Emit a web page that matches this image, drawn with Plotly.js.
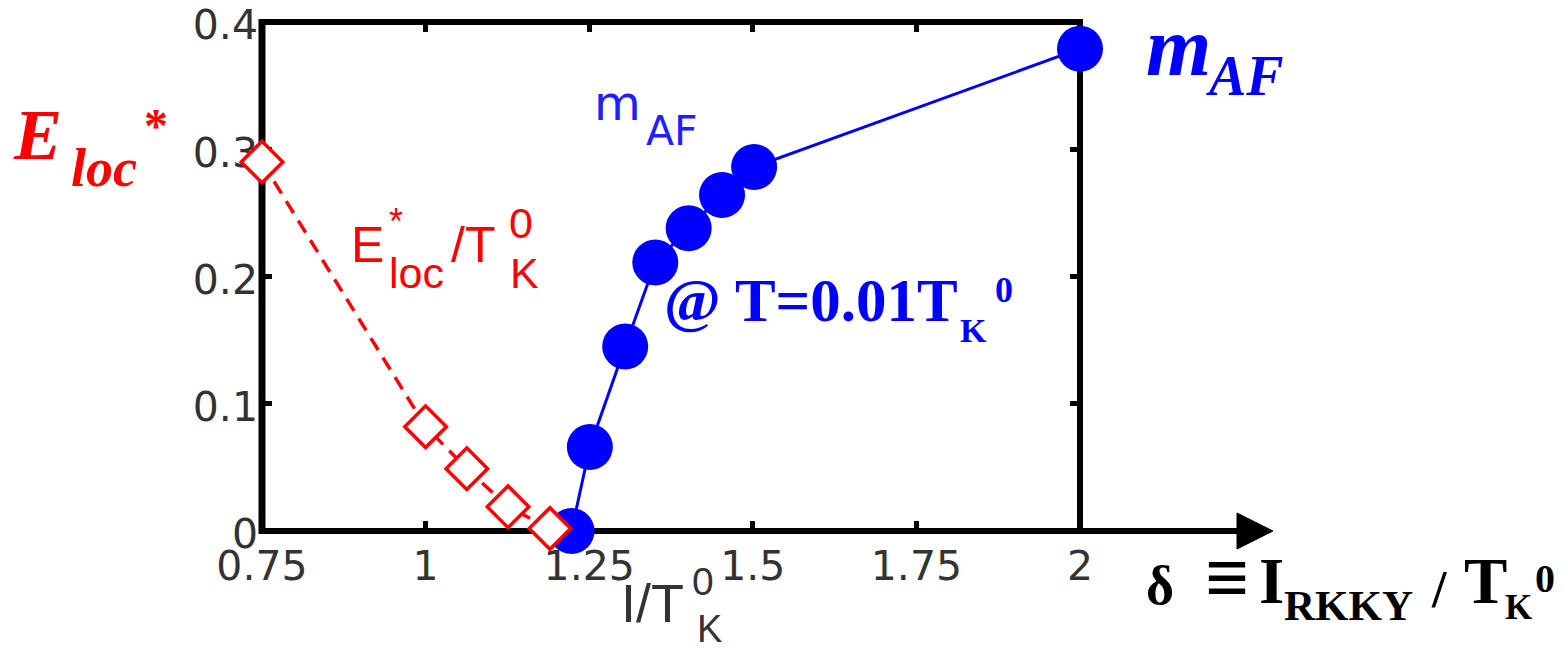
<!DOCTYPE html>
<html>
<head>
<meta charset="utf-8">
<script src="https://cdn.plot.ly/plotly-3.0.1.min.js"></script>
<style>html,body{margin:0;padding:0;background:#fff;}</style>
</head>
<body>
<div id="chart" style="width:1564px;height:651px;"></div>
<script>
// ---- data ----
const elocX = [0.75, 1.0, 1.063, 1.126, 1.19];
const elocY = [0.29, 0.082, 0.049, 0.019, 0.002];
const mafX = [1.223, 1.251, 1.305, 1.351, 1.402, 1.453, 1.502, 2.0];
const mafY = [0.0, 0.066, 0.145, 0.211, 0.238, 0.264, 0.286, 0.379];
const xTickVals = [0.75, 1, 1.25, 1.5, 1.75, 2];
const xTickText = ['0.75', '1', '1.25', '1.5', '1.75', '2'];
const yTickVals = [0, 0.1, 0.2, 0.3, 0.4];
const yTickText = ['0', '0.1', '0.2', '0.3', '0.4'];

// ---- layout geometry ----
const W = 1564, H = 651;
const L = 262, R = 1080, T = 22, B = 531;
const PW = R - L, PH = B - T;
const px = X => (X - L) / PW;
const py = Y => (B - Y) / PH;

const SERIF = '"Liberation Serif", "DejaVu Serif", serif';
const SANS = '"Liberation Sans", Arial, sans-serif';
const DSANS = '"DejaVu Sans", sans-serif';

function ann(text, X, base, size, color, family) {
  return {
    xref: 'paper', yref: 'paper', x: px(X), y: py(base - 0.345 * size),
    xanchor: 'left', yanchor: 'middle', showarrow: false, text: text,
    borderpad: 0,
    font: {family: family, size: size, color: color}
  };
}
const BI = t => '<b><i>' + t + '</i></b>';
const BO = t => '<b>' + t + '</b>';
const RED = '#ff0000', BLUE = '#0000ff', BLK = '#000000', GRY = '#333333';

const annotations = [
  // big E_loc*
  ann(BI('E'), 12, 160, 72, RED, SERIF),
  ann(BI('loc'), 70, 187, 54, RED, SERIF),
  ann(BO('*'), 143, 142, 48, RED, SERIF),
  // big m_AF
  ann(BI('m'), 1145, 75, 84, BLUE, SERIF),
  ann(BI('AF'), 1205, 95, 56, BLUE, SERIF),
  // small m_AF label
  ann('m', 593, 120, 48, '#2020ff', DSANS),
  ann('AF', 645, 145, 41, '#2020ff', DSANS),
  // small E*_loc / T^0_K label
  ann('E', 350, 262, 50, RED, SANS),
  ann('*', 388, 234, 36, RED, SANS),
  ann('loc', 388, 288, 43, RED, SANS),
  ann('/T', 450, 262, 50, RED, SANS),
  ann('0', 508, 238, 43, RED, SANS),
  ann('K', 509, 288, 43, RED, SANS),
  // @ T=0.01 T_K^0
  ann(BO('@ T=0.01T'), 663, 322, 61, BLUE, SERIF),
  ann(BO('K'), 959, 342, 34, BLUE, SERIF),
  ann(BO('0'), 994, 302, 36, BLUE, SERIF),
  // delta = I_RKKY / T_K^0
  ann(BO('δ'), 1145, 605, 54, BLK, SERIF),
  ann(BO('≡'), 1204, 604, 78, BLK, SERIF),
  ann(BO('I'), 1258, 603, 65, BLK, SERIF),
  ann(BO('RKKY'), 1283, 620, 43, BLK, SERIF),
  ann(BO('/'), 1430, 607, 52, BLK, SERIF),
  ann(BO('T'), 1463, 603, 65, BLK, SERIF),
  ann(BO('K'), 1504, 620, 35, BLK, SERIF),
  ann(BO('0'), 1534, 592, 40, BLK, SERIF),
  // x axis title I/T^0_K
  ann('I/T', 620, 622, 54, GRY, SANS),
  ann('0', 691, 595, 39, GRY, SANS),
  ann('K', 696, 642, 38, GRY, SANS)
];

const LW = 6;
const shapes = [
  // frame
  {type: 'line', xref: 'paper', yref: 'paper', x0: px(L), x1: px(L), y0: py(B + 3), y1: py(T - 3), line: {color: BLK, width: 7}, layer: 'below'},
  {type: 'line', xref: 'paper', yref: 'paper', x0: px(R), x1: px(R), y0: py(B + 3), y1: py(T - 3), line: {color: BLK, width: LW}, layer: 'below'},
  {type: 'line', xref: 'paper', yref: 'paper', x0: px(L - 3), x1: px(R + 3), y0: py(T), y1: py(T), line: {color: BLK, width: LW}, layer: 'below'},
  {type: 'line', xref: 'paper', yref: 'paper', x0: px(L - 3), x1: px(1242), y0: py(B), y1: py(B), line: {color: BLK, width: LW}, layer: 'below'},
  // arrow head
  {type: 'path', xref: 'paper', yref: 'paper', layer: 'below',
   path: 'M ' + px(1237) + ' ' + py(B - 18) + ' L ' + px(1273) + ' ' + py(B) + ' L ' + px(1237) + ' ' + py(B + 18) + ' Z',
   fillcolor: BLK, line: {color: BLK, width: 1}}
];

const traces = [
  {
    x: mafX, y: mafY, type: 'scatter', mode: 'lines+markers', cliponaxis: false,
    line: {color: BLUE, width: 3},
    marker: {symbol: 'circle', size: 46, color: BLUE, line: {width: 0}},
    showlegend: false, hoverinfo: 'skip'
  },
  {
    x: elocX, y: elocY, type: 'scatter', mode: 'lines+markers', cliponaxis: false,
    line: {color: RED, width: 3.5, dash: '14px,9px'},
    marker: {symbol: 'diamond', size: 32, color: '#ffffff', line: {color: RED, width: 3.5}},
    showlegend: false, hoverinfo: 'skip'
  }
];

const layout = {
  width: W, height: H,
  margin: {l: L, r: W - R, t: T, b: H - B, pad: 0},
  paper_bgcolor: '#ffffff', plot_bgcolor: '#ffffff',
  showlegend: false,
  xaxis: {
    range: [0.75, 2.0], showgrid: false, zeroline: false, showline: false,
    tickmode: 'array', tickvals: xTickVals, ticktext: xTickText,
    ticks: 'inside', ticklen: 10, tickwidth: 5, tickcolor: BLK, mirror: 'ticks',
    tickfont: {family: DSANS, size: 41, color: GRY}, ticklabelstandoff: 7,
    ticklabeloverflow: 'allow',
    layer: 'below traces', fixedrange: true
  },
  yaxis: {
    range: [0, 0.40001], showgrid: false, zeroline: false, showline: false,
    tickmode: 'array', tickvals: yTickVals, ticktext: yTickText,
    ticks: 'inside', ticklen: 10, tickwidth: 5, tickcolor: BLK, mirror: 'ticks',
    tickfont: {family: DSANS, size: 41, color: GRY}, ticklabelstandoff: 3,
    ticklabelshift: 3, ticklabeloverflow: 'allow',
    layer: 'below traces', fixedrange: true
  },
  shapes: shapes,
  annotations: annotations
};

Plotly.newPlot('chart', traces, layout, {displayModeBar: false, staticPlot: true});
</script>
</body>
</html>
